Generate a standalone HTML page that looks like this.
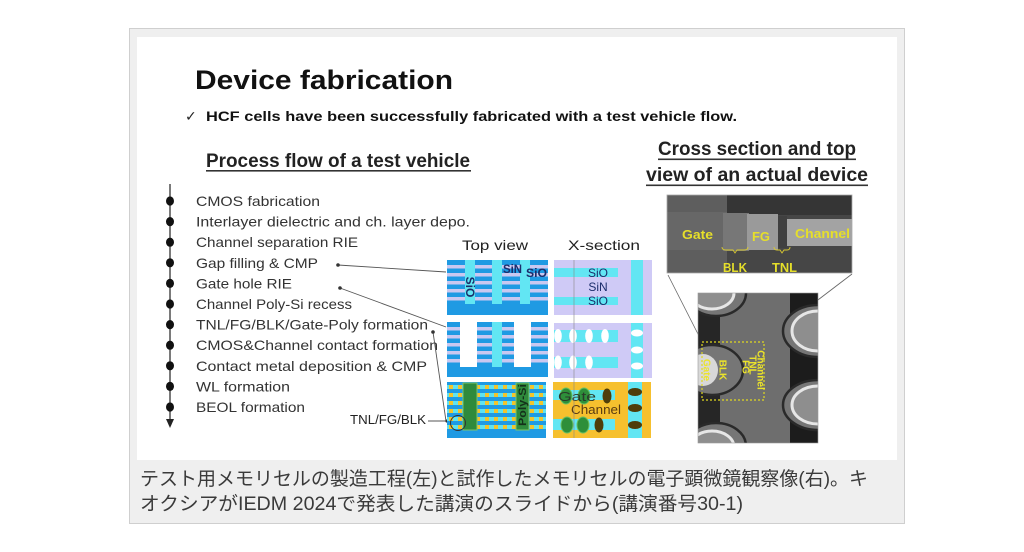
<!DOCTYPE html>
<html><head><meta charset="utf-8">
<style>
html,body{margin:0;padding:0;background:#fff;width:1024px;height:552px;overflow:hidden}
svg{display:block}
</style></head><body>
<svg width="1024" height="552" viewBox="0 0 1024 552" xmlns="http://www.w3.org/2000/svg" font-family="'Liberation Sans', sans-serif">
<defs>
  <pattern id="yd" patternUnits="userSpaceOnUse" x="447" y="0" width="9" height="100">
    <rect x="0" y="0" width="9" height="100" fill="#5fe3f0"/>
    <rect x="2" y="0" width="4" height="100" fill="#f2c42c"/>
  </pattern>
  <clipPath id="bot"><rect x="698" y="293" width="120" height="150"/></clipPath>
  <clipPath id="topimg"><rect x="667" y="195" width="185" height="78"/></clipPath>
</defs>

<!-- frame -->
<rect x="129.5" y="28.5" width="775" height="495" fill="#efefef" stroke="#cfcfcf"/>
<rect x="137" y="37" width="760" height="423" fill="#fff"/>

<!-- titles -->
<text x="195" y="89" font-size="27" font-weight="bold" fill="#111" textLength="258" lengthAdjust="spacingAndGlyphs">Device fabrication</text>
<text x="185" y="121" font-size="14" fill="#222" font-family="'DejaVu Sans',sans-serif">✓</text>
<text x="206" y="121" font-size="14" font-weight="bold" fill="#111" textLength="531" lengthAdjust="spacingAndGlyphs">HCF cells have been successfully fabricated with a test vehicle flow.</text>
<text x="206" y="167" font-size="19" font-weight="bold" fill="#222" textLength="264" lengthAdjust="spacingAndGlyphs">Process flow of a test vehicle</text>
<rect x="206" y="170" width="265" height="1.6" fill="#333"/>

<text x="658" y="155" font-size="19" font-weight="bold" fill="#222" textLength="198" lengthAdjust="spacingAndGlyphs">Cross section and top</text>
<rect x="658" y="158.5" width="198" height="1.6" fill="#333"/>
<text x="646" y="181" font-size="19" font-weight="bold" fill="#222" textLength="222" lengthAdjust="spacingAndGlyphs">view of an actual device</text>
<rect x="646" y="184.5" width="222" height="1.6" fill="#333"/>

<!-- process list -->
<line x1="170" y1="184" x2="170" y2="421" stroke="#222" stroke-width="1.2"/>
<polygon points="166,419 174,419 170,428" fill="#222"/>
<g fill="#111">
<ellipse cx="170" cy="201" rx="4" ry="4.6"/>
<ellipse cx="170" cy="221.6" rx="4" ry="4.6"/>
<ellipse cx="170" cy="242.2" rx="4" ry="4.6"/>
<ellipse cx="170" cy="262.8" rx="4" ry="4.6"/>
<ellipse cx="170" cy="283.4" rx="4" ry="4.6"/>
<ellipse cx="170" cy="304" rx="4" ry="4.6"/>
<ellipse cx="170" cy="324.6" rx="4" ry="4.6"/>
<ellipse cx="170" cy="345.2" rx="4" ry="4.6"/>
<ellipse cx="170" cy="365.8" rx="4" ry="4.6"/>
<ellipse cx="170" cy="386.4" rx="4" ry="4.6"/>
<ellipse cx="170" cy="407" rx="4" ry="4.6"/>
</g>
<g font-size="14" fill="#333">
<text x="196" y="206" textLength="124" lengthAdjust="spacingAndGlyphs">CMOS fabrication</text>
<text x="196" y="226.6" textLength="274" lengthAdjust="spacingAndGlyphs">Interlayer dielectric and ch. layer depo.</text>
<text x="196" y="247.2" textLength="162" lengthAdjust="spacingAndGlyphs">Channel separation RIE</text>
<text x="196" y="267.8" textLength="122" lengthAdjust="spacingAndGlyphs">Gap filling &amp; CMP</text>
<text x="196" y="288.4" textLength="96" lengthAdjust="spacingAndGlyphs">Gate hole RIE</text>
<text x="196" y="309" textLength="156" lengthAdjust="spacingAndGlyphs">Channel Poly-Si recess</text>
<text x="196" y="329.6" textLength="232" lengthAdjust="spacingAndGlyphs">TNL/FG/BLK/Gate-Poly formation</text>
<text x="196" y="350.2" textLength="242" lengthAdjust="spacingAndGlyphs">CMOS&amp;Channel contact formation</text>
<text x="196" y="370.8" textLength="231" lengthAdjust="spacingAndGlyphs">Contact metal deposition &amp; CMP</text>
<text x="196" y="391.4" textLength="94" lengthAdjust="spacingAndGlyphs">WL formation</text>
<text x="196" y="412" textLength="109" lengthAdjust="spacingAndGlyphs">BEOL formation</text>
</g>
<text x="350" y="424" font-size="12.5" fill="#222" textLength="76" lengthAdjust="spacingAndGlyphs">TNL/FG/BLK</text>

<!-- connectors -->
<g stroke="#555" stroke-width="0.9" fill="none">
<line x1="338" y1="265" x2="446" y2="272"/>
<line x1="340" y1="288" x2="446" y2="327"/>
<line x1="433" y1="332" x2="446" y2="421"/>
<line x1="428" y1="421" x2="447" y2="421"/>
</g>
<g fill="#333">
<circle cx="338" cy="265" r="1.8"/>
<circle cx="340" cy="288" r="1.8"/>
<circle cx="433" cy="332" r="1.8"/>
<circle cx="447" cy="421" r="1.6"/>
</g>

<!-- headers -->
<text x="462" y="250" font-size="14" fill="#222" textLength="66" lengthAdjust="spacingAndGlyphs">Top view</text>
<text x="568" y="250" font-size="14" fill="#222" textLength="72" lengthAdjust="spacingAndGlyphs">X-section</text>

<!-- top view 1 -->
<rect x="447" y="260" width="101" height="55" fill="#1f9ae3"/>
<g fill="#cac8f0">
<rect x="447" y="265" width="101" height="3.5"/>
<rect x="447" y="273" width="101" height="3.5"/>
<rect x="447" y="281" width="101" height="3.5"/>
<rect x="447" y="289" width="101" height="3.5"/>
<rect x="447" y="297" width="101" height="3.5"/>
</g>
<g fill="#62e6f3">
<rect x="465" y="260" width="10" height="44"/>
<rect x="492" y="260" width="10" height="44"/>
<rect x="520" y="260" width="10" height="44"/>
</g>
<text transform="translate(470,287) rotate(90)" text-anchor="middle" dominant-baseline="central" font-size="12" font-weight="bold" fill="#1b2d6b">SiO</text>
<text x="503" y="273" font-size="11.5" font-weight="bold" fill="#1b2d6b" textLength="19" lengthAdjust="spacingAndGlyphs">SiN</text>
<text x="526" y="277" font-size="11.5" font-weight="bold" fill="#1b2d6b" textLength="21" lengthAdjust="spacingAndGlyphs">SiO</text>

<!-- top view 2 -->
<rect x="447" y="322" width="101" height="55" fill="#1f9ae3"/>
<g fill="#cac8f0">
<rect x="447" y="327" width="101" height="3.5"/>
<rect x="447" y="335" width="101" height="3.5"/>
<rect x="447" y="343" width="101" height="3.5"/>
<rect x="447" y="351" width="101" height="3.5"/>
<rect x="447" y="359" width="101" height="3.5"/>
</g>
<rect x="492" y="322" width="10" height="45" fill="#62e6f3"/>
<rect x="460" y="322" width="17" height="45" fill="#fff"/>
<rect x="514" y="322" width="17" height="45" fill="#fff"/>

<!-- top view 3 -->
<rect x="447" y="382" width="99" height="56" fill="#1f9ae3"/>
<g fill="url(#yd)">
<rect x="447" y="385" width="99" height="4"/>
<rect x="447" y="393" width="99" height="4"/>
<rect x="447" y="401" width="99" height="4"/>
<rect x="447" y="409" width="99" height="4"/>
<rect x="447" y="417" width="99" height="4"/>
<rect x="447" y="425" width="99" height="4"/>
</g>
<rect x="463" y="383" width="14" height="47" fill="#2f8a3c" stroke="#7cc46a" stroke-width="1"/>
<rect x="516" y="383" width="13" height="47" fill="#2f8a3c" stroke="#7cc46a" stroke-width="1"/>
<text transform="translate(523,405) rotate(-90)" text-anchor="middle" dominant-baseline="central" font-size="11" font-weight="bold" fill="#14301a" textLength="42" lengthAdjust="spacingAndGlyphs">Poly-Si</text>
<circle cx="458" cy="423" r="7.5" fill="none" stroke="#333" stroke-width="1"/>

<!-- x-section 1 -->
<rect x="554" y="260" width="98" height="55" fill="#cfcaf6"/>
<rect x="554" y="268" width="64" height="9" fill="#62e6f3"/>
<rect x="554" y="297" width="64" height="8" fill="#62e6f3"/>
<rect x="631" y="260" width="12" height="55" fill="#62e6f3"/>
<g font-size="12" fill="#1b2d6b" text-anchor="middle">
<text x="598" y="277">SiO</text>
<text x="598" y="291">SiN</text>
<text x="598" y="305">SiO</text>
</g>

<!-- x-section 2 -->
<rect x="554" y="323" width="98" height="55" fill="#cfcaf6"/>
<rect x="554" y="330" width="64" height="12" fill="#62e6f3"/>
<rect x="554" y="357" width="64" height="11" fill="#62e6f3"/>
<rect x="631" y="323" width="12" height="55" fill="#62e6f3"/>
<g fill="#fff">
<ellipse cx="558" cy="336" rx="3.8" ry="7"/>
<ellipse cx="573" cy="336" rx="3.8" ry="7"/>
<ellipse cx="589" cy="336" rx="3.8" ry="7"/>
<ellipse cx="605" cy="336" rx="3.8" ry="7"/>
<ellipse cx="558" cy="362.5" rx="3.8" ry="7"/>
<ellipse cx="573" cy="362.5" rx="3.8" ry="7"/>
<ellipse cx="589" cy="362.5" rx="3.8" ry="7"/>
<ellipse cx="637" cy="333" rx="6" ry="3.5"/>
<ellipse cx="637" cy="350" rx="6" ry="3.5"/>
<ellipse cx="637" cy="366" rx="6" ry="3.5"/>
</g>

<!-- x-section 3 -->
<rect x="553" y="382" width="98" height="56" fill="#f6c02e"/>
<rect x="553" y="390" width="62" height="10" fill="#62e6f3"/>
<rect x="553" y="419" width="62" height="11" fill="#62e6f3"/>
<rect x="628" y="382" width="14" height="56" fill="#62e6f3"/>
<g fill="#2e8f3a" stroke="#6cc062" stroke-width="1">
<ellipse cx="566" cy="396" rx="6" ry="8"/>
<ellipse cx="584" cy="396" rx="6" ry="8"/>
<ellipse cx="567" cy="425" rx="6" ry="8"/>
<ellipse cx="583" cy="425" rx="6" ry="8"/>
</g>
<g fill="#4f3d0a">
<ellipse cx="607" cy="396" rx="4.5" ry="7.5"/>
<ellipse cx="599" cy="425" rx="4.5" ry="7.5"/>
<ellipse cx="635" cy="392" rx="7" ry="4"/>
<ellipse cx="635" cy="408" rx="7" ry="4"/>
<ellipse cx="635" cy="425" rx="7" ry="4"/>
</g>
<text x="558" y="401" font-size="13" fill="#2a3a2a" textLength="38" lengthAdjust="spacingAndGlyphs">Gate</text>
<text x="571" y="414" font-size="13" fill="#5a3c12" textLength="50" lengthAdjust="spacingAndGlyphs">Channel</text>

<line x1="574" y1="260" x2="574" y2="438" stroke="#888" stroke-width="0.6"/>

<!-- SEM top image -->
<g clip-path="url(#topimg)">
<rect x="667" y="195" width="185" height="78" fill="#464646"/>
<rect x="727" y="195" width="125" height="20" fill="#353535"/>
<rect x="667" y="195" width="60" height="78" fill="#5e5e5e"/>
<rect x="667" y="212" width="60" height="38" fill="#676767"/>
<rect x="723" y="213" width="26" height="38" fill="#777"/>
<rect x="747" y="214" width="31" height="36" fill="#9a9a9a"/>
<rect x="778" y="216" width="9" height="32" fill="#404040"/>
<rect x="787" y="219" width="65" height="27" fill="#a3a3a3"/>
</g>
<rect x="667" y="195" width="185" height="78" fill="none" stroke="#aaa" stroke-width="0.8"/>
<g font-size="13" font-weight="bold" fill="#e6df2a">
<text x="682" y="239" textLength="31" lengthAdjust="spacingAndGlyphs">Gate</text>
<text x="752" y="241" textLength="18" lengthAdjust="spacingAndGlyphs">FG</text>
<text x="795" y="238" textLength="55" lengthAdjust="spacingAndGlyphs">Channel</text>
<text x="723" y="272" textLength="24" lengthAdjust="spacingAndGlyphs">BLK</text>
<text x="772" y="272" textLength="25" lengthAdjust="spacingAndGlyphs">TNL</text>
</g>
<g stroke="#d8c830" stroke-width="0.9" fill="none">
<path d="M722,247 q0,3 4,3 h7 l2,3 l2,-3 h7 q4,0 4,-3"/>
<path d="M774,247 q0,3 3,3 h3 l2,3 l2,-3 h3 q3,0 3,-3"/>
</g>
<line x1="668" y1="275" x2="699" y2="336" stroke="#666" stroke-width="0.8"/>
<line x1="852" y1="274" x2="768" y2="338" stroke="#666" stroke-width="0.8"/>

<!-- SEM bottom image -->
<g clip-path="url(#bot)">
<rect x="698" y="293" width="120" height="150" fill="#262626"/>
<rect x="720" y="293" width="70" height="150" fill="#6e6e6e"/>
<rect x="790" y="293" width="28" height="150" fill="#1c1c1c"/>
<g fill="#767676" stroke="#2a2a2a" stroke-width="2.5">
<ellipse cx="716" cy="293" rx="30" ry="23"/>
<ellipse cx="716" cy="446" rx="30" ry="23"/>
<ellipse cx="712" cy="370" rx="31" ry="25"/>
<ellipse cx="818" cy="331" rx="35" ry="26"/>
<ellipse cx="818" cy="405" rx="35" ry="25"/>
</g>
<g fill="#8e8e8e" stroke="#e6e6e6" stroke-width="3">
<ellipse cx="712" cy="293" rx="22" ry="16"/>
<ellipse cx="712" cy="447" rx="22" ry="16"/>
<ellipse cx="818" cy="331" rx="26" ry="20"/>
<ellipse cx="818" cy="405" rx="26" ry="19"/>
</g>
<ellipse cx="703" cy="370" rx="15" ry="16" fill="#d8d8d8"/>
</g>
<rect x="698" y="293" width="120" height="150" fill="none" stroke="#999" stroke-width="0.6"/>
<rect x="702" y="342" width="62" height="58" fill="none" stroke="#e0d820" stroke-width="1.2" stroke-dasharray="2,2"/>
<g font-size="10" font-weight="bold" fill="#ece42a" text-anchor="middle" dominant-baseline="central">
<text transform="translate(760,370) rotate(90)">Channel</text>
<text transform="translate(752,365) rotate(90)">TNL</text>
<text transform="translate(745,367) rotate(90)">FG</text>
<text transform="translate(722,370) rotate(90)">BLK</text>
<text transform="translate(706,370) rotate(90)">Gate</text>
</g>

<!-- caption -->
<g font-family="'Liberation Sans','Noto Sans CJK JP',sans-serif" font-size="19" fill="#3a3a3a">
<text x="140" y="485" textLength="728" lengthAdjust="spacingAndGlyphs">テスト用メモリセルの製造工程(左)と試作したメモリセルの電子顕微鏡観察像(右)。キ</text>
<text x="140" y="510" textLength="603" lengthAdjust="spacingAndGlyphs">オクシアがIEDM 2024で発表した講演のスライドから(講演番号30-1)</text>
</g>
</svg>
</body></html>
